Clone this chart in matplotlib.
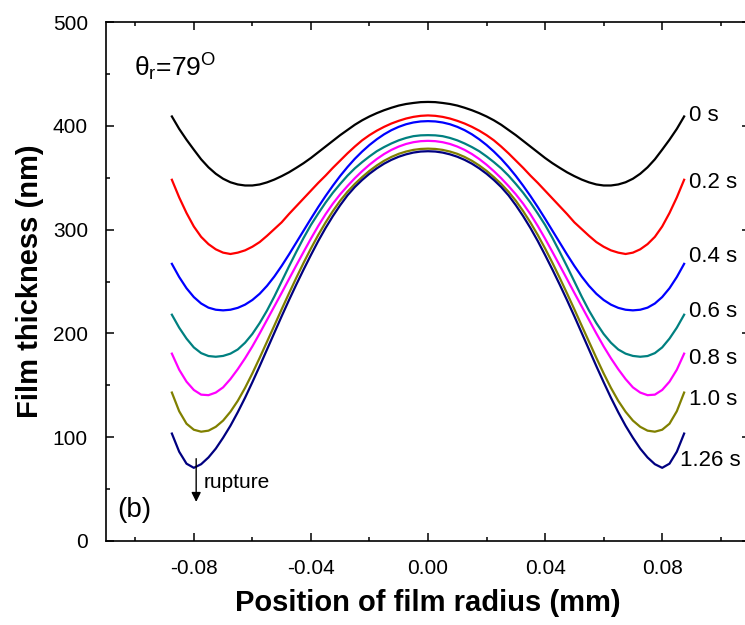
import numpy as np
import matplotlib
matplotlib.use("Agg")
import matplotlib.pyplot as plt
from matplotlib.ticker import MultipleLocator

plt.rcParams["font.family"] = ["Liberation Sans", "DejaVu Sans"]
plt.rcParams["mathtext.fontset"] = "custom"
plt.rcParams["mathtext.rm"] = "Liberation Sans"
plt.rcParams["mathtext.it"] = "Liberation Sans:italic"

# radial positions (mm), half profile from centre to edge; the film is symmetric
r_half = [0.0, 0.0025, 0.005, 0.0075, 0.01, 0.0125, 0.015, 0.0175, 0.02, 0.0225,
          0.025, 0.0275, 0.03, 0.0325, 0.035, 0.0375, 0.04, 0.0425, 0.045, 0.0475,
          0.05, 0.0525, 0.055, 0.0575, 0.06, 0.0625, 0.065, 0.0675, 0.07, 0.0725,
          0.075, 0.0775, 0.08, 0.0825, 0.085, 0.0875]

# film thickness (nm) at r_half
h_0s = [423, 422.8, 422, 421, 419.5, 417.4, 415, 412.2, 409, 405.3,
        401, 396, 391, 385.5, 380, 374.5, 369, 364, 359.5, 355.2,
        351.5, 348.2, 345.5, 343.5, 342.5, 342.5, 343.5, 345.6, 349, 353.8,
        360, 367.7, 377, 386.6, 397, 409]
h_02s = [410, 409.6, 408.6, 407, 404.8, 402.2, 399, 395.3, 391, 386,
         380, 373.5, 366.5, 359.5, 352, 345, 337.5, 330, 322.5, 315,
         307, 300.5, 294, 288, 283.5, 280, 277.8, 276.5, 277.8, 281,
         286, 293, 303, 316, 331, 348]
h_04s = [404.5, 404.2, 403.2, 401.5, 399, 395.8, 391.8, 387, 381.5, 375.2,
         368.2, 360.3, 351.7, 342.3, 332.3, 321.7, 310.5, 299, 287.5, 276,
         265, 254.8, 245.8, 238.2, 232.2, 227.7, 224.6, 222.8, 222.2, 222.8,
         224.8, 228.8, 235, 243.5, 254.3, 267]
h_06s = [391, 390.8, 390, 388.3, 386, 383, 379.5, 375.5, 370.5, 365,
         359, 352, 344, 335.5, 326, 315.5, 304.5, 292, 278.5, 264.5,
         250, 235.5, 222, 210, 199.5, 191, 184.5, 180.5, 178.3, 177.5,
         178.2, 181, 186.5, 195, 205.5, 218]
h_08s = [385.5, 385.2, 384.2, 382.5, 380, 376.8, 372.8, 368, 362.5, 356.3,
         349.5, 342, 334, 325, 314.8, 303.5, 291.3, 278.5, 265.5, 252.3,
         239, 226, 213, 200, 187.5, 176, 165.5, 156, 148, 143,
         140.5, 141, 145.5, 153.5, 165, 180.5]
h_10s = [378, 377.7, 376.8, 375.2, 373, 370, 366.3, 361.8, 356.6, 350.6,
         344, 336.5, 327.8, 317.8, 306.8, 294.8, 281.8, 268, 253.5, 238.5,
         223.2, 207.5, 192, 176.5, 161.5, 147.5, 135, 124.5, 116, 110,
         106.3, 105.3, 107.2, 113, 125, 143]
h_126s = [375.5, 375.2, 374.2, 372.5, 370.2, 367.2, 363.5, 359, 353.8, 347.8,
          341, 333, 323.5, 313, 301.5, 289, 275.5, 261.5, 247, 232,
          216.5, 200.5, 184.5, 168.5, 153, 138, 124, 111, 99.5, 89,
          80.5, 74, 70.5, 74.5, 86, 103.5]

series = [h_0s, h_02s, h_04s, h_06s, h_08s, h_10s, h_126s]
labels = ["0 s", "0.2 s", "0.4 s", "0.6 s", "0.8 s", "1.0 s", "1.26 s"]
colors = ["black", "#ff0000", "#0000ff", "#008080", "#ff00ff", "#808000", "#000080"]
label_y = [410, 345, 274, 221, 176, 136, 78]
label_x = [0.089, 0.089, 0.089, 0.089, 0.089, 0.089, 0.086]

r_half = np.array(r_half)
r_full = np.concatenate([-r_half[::-1], r_half[1:]])

fig = plt.figure(figsize=(7.45, 6.25), dpi=100)
ax = fig.add_axes([0.1423, 0.1344, 0.8644, 0.8304])

for h, c in zip(series, colors):
    h = np.array(h, dtype=float)
    ax.plot(r_full, np.concatenate([h[::-1], h[1:]]), color=c, lw=1.6)

for lab, lx, ly in zip(labels, label_x, label_y):
    ax.text(lx, ly, lab, fontsize=16, ha="left", va="center")

ax.set_xlim(-0.11, 0.11)
ax.set_ylim(0, 500)
ax.xaxis.set_minor_locator(MultipleLocator(0.02))
ax.yaxis.set_major_locator(MultipleLocator(100))
ax.yaxis.set_minor_locator(MultipleLocator(50))
ax.set_xticks([-0.08, -0.04, 0.0, 0.04, 0.08])
ax.set_xticklabels(["-0.08", "-0.04", "0.00", "0.04", "0.08"])
ax.tick_params(which="both", direction="in", top=True, right=True, width=1.1)
ax.tick_params(which="major", length=6, labelsize=15, pad=13)
ax.tick_params(which="minor", length=3)
for s in ax.spines.values():
    s.set_linewidth(1.2)

ax.set_xlabel("Position of film radius (mm)", fontsize=21, fontweight="bold", labelpad=8)
ax.set_ylabel("Film thickness (nm)", fontsize=21, fontweight="bold", labelpad=6)

ax.text(-0.1003, 456, r"$\mathrm{\theta_r}$=79$^\mathrm{O}$", fontsize=19, ha="left", va="center")
ax.text(-0.106, 30, "(b)", fontsize=20, ha="left", va="center")
ax.annotate("", xy=(-0.0792, 35), xytext=(-0.0792, 82),
            arrowprops=dict(arrowstyle="-|>", color="black", lw=1.0, mutation_scale=14))
ax.text(-0.0765, 56, "rupture", fontsize=15, ha="left", va="center")

fig.savefig("out.png", dpi=100)
